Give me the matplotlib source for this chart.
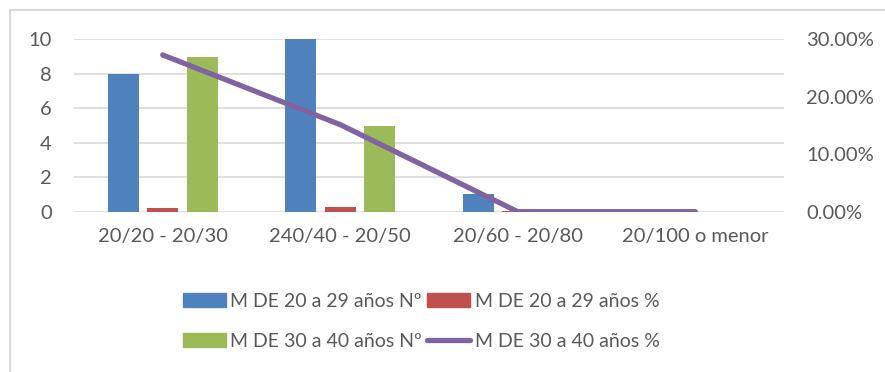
import matplotlib
matplotlib.use("Agg")
import matplotlib.pyplot as plt
import numpy as np
from matplotlib.lines import Line2D
from matplotlib.patches import Patch
from matplotlib.ticker import FuncFormatter

categories = ["20/20 - 20/30", "240/40 - 20/50", "20/60 - 20/80", "20/100 o menor"]
m20_29_n = [8, 10, 1, 0]
m20_29_pct = [0.2222, 0.2778, 0.0278, 0]
m30_40_n = [9, 5, 0, 0]
m30_40_pct = [0.2727, 0.1515, 0, 0]

labels = ["M DE 20 a 29 años Nº", "M DE 20 a 29 años %",
          "M DE 30 a 40 años Nº", "M DE 30 a 40 años %"]

blue = "#4f81bd"
red = "#c0504d"
green = "#9bbb59"
purple = "#8064a2"
txt = "#595959"
grid = "#d9d9d9"

plt.rcParams['font.family'] = ['Lato', 'DejaVu Sans']
plt.rcParams['font.size'] = 14.5

fig = plt.figure(figsize=(8.85, 3.72), dpi=100)
W, H = 885, 372
ax = fig.add_axes([74 / W, 1 - 211.7 / H, (784 - 74) / W, (211.7 - 39.3) / H])

x = np.arange(len(categories))
bw = 0.175
off = 0.2225
ax.bar(x - off, m20_29_n, bw, color=blue, zorder=3)
ax.bar(x, m20_29_pct, bw, color=red, zorder=3)
ax.bar(x + off, m30_40_n, bw, color=green, zorder=3)

ax.set_xlim(-0.5, len(categories) - 0.5)
ax.set_ylim(0, 10)
ax.set_yticks(range(0, 11, 2))
ax.set_xticks(x)
ax.set_xticklabels(categories)
ax.grid(axis='y', color=grid, lw=1.2, zorder=0)
for s in ax.spines.values():
    s.set_visible(False)
ax.tick_params(length=0, colors=txt, labelsize=14.5)
ax.tick_params(axis='y', pad=16)
ax.tick_params(axis='x', pad=12)

ax2 = ax.twinx()
ax2.plot(x, m30_40_pct, color=purple, lw=3.8, solid_capstyle='round', zorder=4)
ax2.set_ylim(0, 0.30)
ax2.set_yticks([0, 0.1, 0.2, 0.3])
ax2.yaxis.set_major_formatter(FuncFormatter(lambda v, p: f"{v * 100:.2f}%"))
for s in ax2.spines.values():
    s.set_visible(False)
ax2.tick_params(length=0, colors=txt, labelsize=14.5, pad=16)

handles = [Patch(color=blue), Patch(color=green), Patch(color=red),
           Line2D([], [], color=purple, lw=3.8, solid_capstyle='round')]
order = [labels[0], labels[2], labels[1], labels[3]]
leg = fig.legend(handles, order, ncol=2, loc='upper left',
                 bbox_to_anchor=(173 / W, 1 - 283 / H), frameon=False,
                 borderpad=0, handlelength=2.2, handletextpad=0.25,
                 columnspacing=0.25, labelspacing=1.2, fontsize=14)
for t in leg.get_texts():
    t.set_color(txt)

# chart frame edge on top and left
fig.add_artist(Line2D([10 / W, 10 / W], [0, 1 - 10 / H], color=grid, lw=1.5))
fig.add_artist(Line2D([10 / W, 1], [1 - 10 / H, 1 - 10 / H], color=grid, lw=1.5))

fig.savefig("out.png", dpi=100)
